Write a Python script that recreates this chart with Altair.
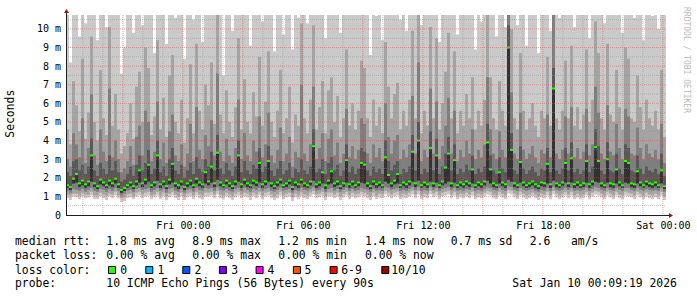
import altair as alt
import pandas as pd

MONO = "DejaVu Sans Mono"

# time: hours relative to Fri 00:00; 200 consolidated steps of 9 minutes
START_HOUR = -5.8447   # Thu 18:09:19
END_HOUR = 24.1553     # Sat 00:09:19
STEP_HOURS = 0.15

# sorted ping levels per step (ms), lowest to highest
ping_min = [
    0.9, 0.8, 1.0, 0.95, 0.85, 1.0, 0.9, 0.95, 1.05, 0.85,
    0.85, 1.0, 0.9, 0.8, 1.0, 0.9, 1.05, 0.9, 0.7, 0.75,
    0.9, 0.95, 0.85, 1.0, 1.05, 0.9, 1.0, 1.05, 0.85, 0.95,
    1.05, 0.85, 1.0, 0.8, 0.95, 1.05, 0.9, 0.8, 1.0, 0.8,
    0.95, 1.0, 0.85, 1.05, 0.9, 0.85, 1.0, 1.0, 1.05, 0.9,
    1.1, 0.9, 0.85, 1.0, 0.9, 0.8, 0.95, 1.05, 0.9, 1.0,
    0.95, 0.8, 1.0, 0.9, 1.05, 0.85, 1.0, 1.05, 0.9, 0.8,
    0.9, 1.05, 0.85, 0.95, 1.0, 0.75, 0.95, 0.85, 1.0, 0.9,
    0.85, 1.0, 1.1, 0.9, 0.95, 1.05, 0.8, 1.0, 1.0, 0.9,
    1.0, 0.8, 0.95, 1.05, 0.85, 1.0, 0.9, 0.95, 1.05, 1.0,
    0.9, 0.8, 1.0, 0.85, 0.95, 0.9, 1.1, 1.0, 0.9, 1.0,
    1.05, 0.85, 0.95, 0.9, 1.0, 1.1, 0.9, 1.1, 0.85, 0.95,
    0.9, 1.1, 0.95, 1.05, 0.85, 1.0, 1.05, 1.1, 0.9, 1.05,
    0.85, 0.95, 0.9, 1.0, 0.9, 1.05, 0.85, 0.95, 0.9, 1.0,
    1.1, 1.05, 0.9, 0.85, 1.05, 0.95, 0.85, 1.15, 1.1, 0.95,
    0.85, 1.05, 0.95, 0.85, 0.9, 1.0, 0.9, 0.8, 0.95, 0.9,
    1.05, 0.85, 1.1, 0.95, 0.85, 0.95, 1.05, 0.9, 1.05, 0.85,
    0.95, 0.85, 0.9, 1.05, 0.85, 1.0, 1.1, 1.05, 0.95, 0.85,
    1.05, 0.95, 0.85, 1.05, 0.9, 0.85, 1.05, 1.0, 0.95, 0.85,
    1.05, 0.95, 0.85, 1.0, 0.9, 0.85, 0.95, 0.85, 1.05, 0.8,
]
ping_low = [
    1.1, 1.05, 1.15, 1.15, 1.05, 1.2, 1.1, 1.1, 1.25, 1.05,
    1.05, 1.2, 1.1, 1.05, 1.15, 1.1, 1.25, 1.05, 0.9, 0.95,
    1.1, 1.15, 1.0, 1.2, 1.25, 1.1, 1.2, 1.25, 1.05, 1.1,
    1.25, 1.05, 1.2, 1.0, 1.15, 1.25, 1.1, 1.0, 1.2, 1.0,
    1.15, 1.2, 1.05, 1.25, 1.1, 1.05, 1.2, 1.2, 1.25, 1.1,
    1.3, 1.1, 1.05, 1.2, 1.1, 1.0, 1.15, 1.25, 1.1, 1.2,
    1.15, 1.05, 1.2, 1.1, 1.25, 1.05, 1.2, 1.25, 1.1, 1.0,
    1.1, 1.25, 1.05, 1.15, 1.2, 0.95, 1.15, 1.05, 1.2, 1.1,
    1.05, 1.2, 1.3, 1.1, 1.15, 1.25, 1.0, 1.2, 1.2, 1.1,
    1.2, 1.0, 1.15, 1.25, 1.05, 1.2, 1.1, 1.15, 1.25, 1.2,
    1.1, 1.0, 1.2, 1.05, 1.15, 1.1, 1.3, 1.2, 1.1, 1.2,
    1.25, 1.05, 1.15, 1.1, 1.2, 1.3, 1.1, 1.3, 1.05, 1.15,
    1.1, 1.3, 1.15, 1.25, 1.05, 1.2, 1.25, 1.3, 1.1, 1.25,
    1.05, 1.15, 1.1, 1.2, 1.1, 1.25, 1.05, 1.15, 1.1, 1.2,
    1.3, 1.25, 1.1, 1.05, 1.25, 1.15, 1.05, 1.35, 1.3, 1.15,
    1.05, 1.25, 1.15, 1.05, 1.1, 1.2, 1.1, 1.0, 1.15, 1.1,
    1.25, 1.05, 1.3, 1.15, 1.05, 1.15, 1.25, 1.1, 1.25, 1.05,
    1.15, 1.05, 1.1, 1.25, 1.05, 1.2, 1.3, 1.25, 1.15, 1.05,
    1.25, 1.15, 1.05, 1.25, 1.1, 1.05, 1.25, 1.2, 1.15, 1.05,
    1.25, 1.15, 1.05, 1.2, 1.1, 1.05, 1.15, 1.05, 1.25, 1.0,
]
ping_mid_low = [
    1.3, 1.2, 1.4, 1.35, 1.3, 1.4, 1.25, 1.35, 1.45, 1.3,
    1.25, 1.4, 1.35, 1.25, 1.4, 1.3, 1.45, 1.3, 1.05, 1.15,
    1.3, 1.35, 1.25, 1.4, 1.45, 1.35, 1.4, 1.45, 1.25, 1.35,
    1.45, 1.3, 1.4, 1.2, 1.4, 1.45, 1.3, 1.25, 1.4, 1.2,
    1.35, 1.4, 1.25, 1.45, 1.35, 1.3, 1.45, 1.4, 1.45, 1.3,
    1.5, 1.35, 1.3, 1.4, 1.3, 1.25, 1.4, 1.45, 1.3, 1.45,
    1.35, 1.25, 1.4, 1.35, 1.45, 1.3, 1.4, 1.45, 1.3, 1.25,
    1.35, 1.45, 1.3, 1.35, 1.4, 1.2, 1.35, 1.3, 1.45, 1.35,
    1.3, 1.4, 1.5, 1.3, 1.35, 1.45, 1.25, 1.4, 1.45, 1.3,
    1.4, 1.25, 1.35, 1.45, 1.3, 1.4, 1.3, 1.35, 1.45, 1.4,
    1.35, 1.25, 1.4, 1.3, 1.35, 1.3, 1.5, 1.45, 1.35, 1.4,
    1.45, 1.3, 1.35, 1.3, 1.4, 1.5, 1.35, 1.5, 1.3, 1.35,
    1.3, 1.5, 1.35, 1.45, 1.3, 1.4, 1.45, 1.5, 1.35, 1.45,
    1.3, 1.35, 1.3, 1.4, 1.35, 1.45, 1.3, 1.35, 1.3, 1.4,
    1.5, 1.45, 1.35, 1.3, 1.45, 1.35, 1.3, 1.55, 1.5, 1.35,
    1.3, 1.45, 1.35, 1.3, 1.35, 1.4, 1.3, 1.25, 1.35, 1.3,
    1.45, 1.3, 1.5, 1.35, 1.3, 1.35, 1.45, 1.35, 1.45, 1.3,
    1.35, 1.3, 1.35, 1.45, 1.3, 1.4, 1.5, 1.45, 1.35, 1.3,
    1.45, 1.35, 1.3, 1.45, 1.35, 1.3, 1.45, 1.45, 1.35, 1.3,
    1.45, 1.35, 1.3, 1.4, 1.35, 1.3, 1.35, 1.3, 1.45, 1.25,
]
ping_near = [
    1.45, 1.35, 1.7, 1.75, 1.5, 1.6, 1.45, 1.55, 1.8, 1.5,
    1.4, 1.65, 1.55, 1.45, 1.6, 1.5, 1.7, 1.45, 1.2, 1.3,
    1.45, 1.55, 1.4, 1.6, 1.75, 1.5, 1.65, 1.8, 1.45, 1.55,
    1.85, 1.45, 1.6, 1.4, 1.65, 1.75, 1.5, 1.4, 1.6, 1.35,
    1.5, 1.6, 1.45, 1.7, 1.55, 1.45, 1.7, 1.6, 1.75, 1.5,
    1.9, 1.55, 1.45, 1.65, 1.5, 1.4, 1.6, 1.8, 1.45, 1.65,
    1.5, 1.45, 1.65, 1.55, 1.75, 1.45, 1.6, 1.8, 1.5, 1.4,
    1.55, 1.7, 1.45, 1.5, 1.65, 1.35, 1.55, 1.45, 1.7, 1.5,
    1.45, 1.6, 1.85, 1.45, 1.55, 1.7, 1.4, 1.65, 1.7, 1.5,
    1.6, 1.4, 1.5, 1.75, 1.45, 1.6, 1.45, 1.55, 1.75, 1.7,
    1.5, 1.4, 1.6, 1.45, 1.55, 1.45, 1.8, 1.7, 1.5, 1.65,
    1.7, 1.45, 1.55, 1.45, 1.6, 1.8, 1.5, 1.85, 1.45, 1.55,
    1.45, 1.8, 1.5, 1.75, 1.45, 1.6, 1.7, 1.8, 1.5, 1.75,
    1.45, 1.55, 1.45, 1.6, 1.5, 1.7, 1.45, 1.55, 1.45, 1.6,
    1.85, 1.7, 1.5, 1.45, 1.7, 1.55, 1.45, 1.9, 1.8, 1.5,
    1.45, 1.75, 1.55, 1.45, 1.5, 1.6, 1.45, 1.4, 1.55, 1.5,
    1.7, 1.45, 1.85, 1.5, 1.45, 1.55, 1.75, 1.5, 1.75, 1.45,
    1.55, 1.45, 1.5, 1.75, 1.45, 1.6, 1.8, 1.75, 1.5, 1.45,
    1.75, 1.5, 1.45, 1.7, 1.55, 1.45, 1.75, 1.7, 1.5, 1.45,
    1.7, 1.55, 1.45, 1.6, 1.5, 1.45, 1.55, 1.45, 1.7, 1.4,
]
median_rtt = [
    1.6, 1.5, 1.95, 2.2, 1.7, 1.85, 1.65, 1.8, 3.2, 1.7,
    1.55, 1.9, 1.75, 1.6, 1.85, 1.7, 1.95, 1.65, 1.35, 1.45,
    1.6, 1.75, 1.55, 1.8, 2.4, 1.7, 1.9, 2.7, 1.6, 1.75,
    3.2, 1.65, 1.8, 1.55, 1.9, 2.75, 1.7, 1.6, 1.8, 1.5,
    1.7, 1.85, 1.6, 1.95, 1.75, 1.65, 2.3, 1.8, 2.6, 1.7,
    3.35, 1.75, 1.6, 1.85, 1.7, 1.55, 1.8, 3.2, 1.65, 1.9,
    1.7, 1.6, 1.85, 1.75, 2.8, 1.65, 1.8, 2.9, 1.7, 1.55,
    1.75, 1.9, 1.6, 1.7, 1.85, 1.5, 1.75, 1.65, 1.9, 1.7,
    1.6, 1.8, 3.7, 1.65, 1.75, 2.3, 1.6, 1.85, 2.35, 1.7,
    1.8, 1.55, 1.7, 2.95, 1.65, 1.8, 1.6, 1.75, 2.8, 2.7,
    1.7, 1.55, 1.8, 1.65, 1.75, 1.6, 3.1, 2.15, 1.7, 1.85,
    2.2, 1.6, 1.75, 1.65, 1.8, 3.4, 1.7, 4.0, 1.6, 1.75,
    1.65, 3.6, 1.7, 3.2, 1.6, 1.8, 2.55, 3.3, 1.7, 2.95,
    1.6, 1.75, 1.65, 1.8, 1.7, 2.45, 1.6, 1.75, 1.65, 1.8,
    3.9, 2.45, 1.7, 1.6, 2.3, 1.75, 1.65, 9.0, 3.5, 1.7,
    1.6, 2.85, 1.75, 1.6, 1.7, 1.8, 1.65, 1.55, 1.75, 1.7,
    2.75, 1.65, 6.8, 1.7, 1.6, 1.75, 2.8, 1.7, 3.05, 1.65,
    1.75, 1.6, 1.7, 2.9, 1.65, 1.8, 3.65, 2.9, 1.7, 1.6,
    3.0, 1.7, 1.65, 2.45, 1.75, 1.6, 2.9, 2.8, 1.7, 1.65,
    2.35, 1.75, 1.6, 1.8, 1.7, 1.65, 1.75, 1.6, 2.4, 1.55,
]
ping_up1 = [
    2.3, 2.1, 2.9, 3.0, 2.4, 2.7, 2.2, 2.6, 4.1, 2.4,
    2.1, 2.8, 2.5, 2.2, 3.2, 2.4, 2.9, 2.3, 1.8, 1.9,
    2.2, 2.6, 2.1, 2.7, 3.2, 2.4, 2.8, 3.5, 2.2, 2.5,
    4.0, 2.3, 2.6, 2.1, 3.0, 3.6, 2.4, 2.2, 2.7, 2.0,
    2.4, 2.8, 2.2, 3.1, 2.5, 2.3, 3.0, 2.6, 3.4, 2.4,
    4.3, 2.5, 2.2, 2.8, 2.4, 2.1, 2.6, 4.0, 2.3, 2.9,
    2.4, 2.2, 2.7, 2.5, 3.6, 2.3, 2.6, 3.7, 2.4, 2.1,
    2.5, 2.9, 2.2, 2.4, 2.8, 2.0, 2.5, 2.3, 3.0, 2.4,
    2.2, 2.6, 4.6, 2.3, 2.5, 3.0, 2.2, 2.8, 3.1, 2.4,
    2.7, 2.1, 2.4, 3.8, 2.3, 2.6, 2.2, 2.5, 3.6, 3.4,
    2.4, 2.1, 2.6, 2.3, 2.5, 2.2, 4.0, 2.9, 2.4, 2.7,
    2.9, 2.2, 2.5, 2.3, 2.6, 4.3, 2.4, 5.0, 2.2, 2.5,
    2.3, 4.5, 2.4, 4.1, 2.2, 2.6, 3.3, 4.2, 2.4, 3.8,
    2.2, 2.5, 2.3, 2.7, 2.4, 3.2, 2.2, 2.5, 2.3, 2.6,
    4.9, 3.2, 2.4, 2.2, 3.1, 2.5, 2.3, 10.2, 4.4, 2.4,
    2.2, 3.7, 2.5, 2.2, 2.4, 2.6, 2.3, 2.1, 2.5, 2.4,
    3.6, 2.3, 7.9, 2.4, 2.2, 2.5, 3.6, 2.4, 3.9, 2.3,
    2.5, 2.2, 2.4, 3.8, 2.3, 2.6, 4.6, 3.7, 2.4, 2.2,
    3.9, 2.4, 2.3, 3.3, 2.5, 2.2, 3.8, 3.6, 2.4, 2.3,
    3.2, 2.5, 2.2, 2.6, 2.4, 2.3, 2.5, 2.2, 3.3, 2.1,
]
ping_up2 = [
    3.0, 2.6, 4.4, 3.8, 3.1, 5.2, 2.8, 3.6, 6.5, 3.2,
    2.7, 4.6, 3.4, 2.9, 6.8, 3.1, 4.0, 3.0, 2.3, 2.5,
    2.9, 3.7, 2.7, 4.2, 4.8, 3.2, 5.6, 5.0, 2.9, 3.4,
    6.1, 3.0, 3.9, 2.8, 4.5, 5.4, 3.2, 2.9, 3.8, 2.6,
    3.3, 4.9, 2.9, 5.8, 3.5, 3.0, 4.3, 3.7, 5.1, 3.2,
    7.6, 3.4, 2.9, 4.1, 3.2, 2.8, 3.6, 6.2, 3.0, 4.4,
    3.2, 2.9, 4.0, 3.4, 5.3, 3.1, 3.8, 5.5, 3.2, 2.8,
    3.5, 4.7, 2.9, 3.3, 4.2, 2.6, 3.4, 3.1, 7.0, 3.3,
    2.9, 3.8, 6.9, 3.0, 3.6, 4.4, 2.9, 4.1, 4.6, 3.2,
    3.9, 2.8, 3.3, 5.7, 3.1, 3.7, 3.0, 3.5, 5.2, 4.9,
    3.3, 2.8, 3.8, 3.1, 3.6, 2.9, 6.0, 4.2, 3.3, 4.0,
    4.3, 3.0, 3.5, 3.1, 3.8, 6.4, 3.3, 8.2, 2.9, 3.5,
    3.1, 6.8, 3.3, 6.1, 3.0, 3.7, 4.8, 6.3, 3.3, 5.6,
    2.9, 3.5, 3.1, 4.0, 3.3, 4.6, 3.0, 3.5, 3.1, 3.8,
    7.4, 4.6, 3.3, 3.0, 4.5, 3.5, 3.1, 12.0, 6.6, 3.3,
    3.0, 5.5, 3.5, 3.0, 3.3, 3.7, 3.1, 2.8, 3.5, 3.3,
    5.4, 3.1, 11.0, 3.3, 3.0, 3.5, 5.3, 3.3, 5.8, 3.1,
    3.6, 3.0, 3.4, 5.7, 3.2, 3.8, 6.9, 5.5, 3.3, 3.0,
    5.9, 3.4, 3.2, 4.9, 3.6, 3.0, 5.7, 5.3, 3.3, 3.2,
    4.7, 3.6, 3.0, 3.8, 3.3, 3.1, 3.5, 3.0, 4.9, 2.8,
]
ping_up3 = [
    4.6, 3.8, 7.2, 5.9, 4.5, 8.4, 4.1, 5.5, 9.6, 5.0,
    4.0, 7.8, 5.2, 4.3, 10.1, 4.8, 6.5, 4.6, 3.3, 3.7,
    4.4, 6.0, 4.1, 6.9, 7.7, 5.0, 9.0, 7.9, 4.3, 5.3,
    9.4, 4.6, 6.3, 4.2, 7.5, 8.6, 5.0, 4.4, 6.2, 3.9,
    5.2, 8.1, 4.4, 9.2, 5.6, 4.6, 7.0, 5.9, 8.2, 4.9,
    10.8, 5.4, 4.4, 6.7, 5.0, 4.2, 5.8, 9.5, 4.6, 7.3,
    5.0, 4.4, 6.6, 5.3, 8.5, 4.8, 6.1, 8.8, 5.0, 4.2,
    5.6, 7.8, 4.4, 5.2, 6.9, 3.9, 5.4, 4.8, 10.3, 5.2,
    4.4, 6.2, 10.2, 4.6, 5.8, 7.2, 4.4, 6.7, 7.4, 5.0,
    6.4, 4.2, 5.2, 8.9, 4.8, 6.0, 4.6, 5.6, 8.3, 7.9,
    5.2, 4.2, 6.2, 4.8, 5.8, 4.4, 9.3, 6.9, 5.2, 6.5,
    7.1, 4.6, 5.6, 4.8, 6.2, 9.9, 5.2, 11.4, 4.4, 5.6,
    4.8, 10.1, 5.2, 9.5, 4.6, 6.0, 7.7, 9.8, 5.2, 8.8,
    4.4, 5.6, 4.8, 6.5, 5.2, 7.4, 4.6, 5.6, 4.8, 6.2,
    10.9, 7.4, 5.2, 4.6, 7.2, 5.6, 4.8, 13.0, 10.0, 5.2,
    4.6, 8.7, 5.6, 4.6, 5.2, 6.0, 4.8, 4.2, 5.6, 5.2,
    8.5, 4.8, 12.4, 5.2, 4.6, 5.6, 8.3, 5.2, 9.1, 4.8,
    5.8, 4.6, 5.4, 8.9, 5.0, 6.2, 10.4, 8.7, 5.2, 4.6,
    9.2, 5.4, 5.0, 7.8, 5.8, 4.6, 9.0, 8.4, 5.2, 5.0,
    7.5, 5.8, 4.6, 6.2, 5.2, 4.8, 5.6, 4.6, 7.8, 4.2,
]
ping_max = [
    12.5, 8.2, 13.0, 11.8, 9.6, 12.9, 10.3, 12.2, 14.0, 11.4,
    9.4, 13.2, 11.9, 10.1, 13.8, 12.0, 12.6, 11.2, 7.6, 9.0,
    11.6, 12.8, 9.8, 13.3, 12.4, 10.2, 13.9, 12.7, 11.0, 8.7,
    14.2, 11.3, 12.6, 9.2, 13.1, 13.5, 10.6, 11.8, 12.9, 8.4,
    12.0, 13.4, 10.5, 13.9, 11.6, 9.3, 12.8, 11.9, 13.6, 10.9,
    15.0, 12.2, 7.5, 12.9, 11.4, 9.9, 12.3, 14.1, 10.8, 12.6,
    11.8, 9.1, 12.7, 11.0, 13.5, 10.4, 12.4, 13.8, 11.7, 8.8,
    12.1, 13.3, 9.7, 11.9, 12.8, 8.9, 11.5, 10.6, 14.3, 12.0,
    10.3, 12.6, 14.6, 11.2, 12.3, 13.0, 9.5, 12.7, 13.2, 11.4,
    12.9, 9.8, 11.6, 13.7, 10.9, 12.5, 11.1, 12.2, 13.4, 13.0,
    11.7, 8.6, 12.8, 10.7, 12.4, 9.4, 13.9, 12.6, 11.3, 12.9,
    13.1, 10.5, 12.2, 9.9, 12.7, 14.0, 11.6, 14.9, 10.2, 12.3,
    11.0, 14.2, 11.8, 13.7, 9.3, 12.5, 13.1, 13.9, 11.4, 13.3,
    9.7, 12.4, 10.8, 12.9, 11.5, 13.2, 8.9, 12.1, 10.4, 12.6,
    14.5, 13.0, 11.7, 9.6, 13.2, 12.0, 10.1, 16.0, 13.8, 11.5,
    10.2, 13.4, 12.1, 9.1, 11.8, 12.6, 10.9, 8.7, 12.3, 11.6,
    13.0, 9.9, 15.5, 12.2, 10.6, 12.4, 13.3, 11.2, 13.6, 10.1,
    12.5, 10.8, 11.9, 13.5, 9.5, 12.8, 14.2, 13.0, 11.7, 10.3,
    13.6, 12.0, 11.4, 13.2, 12.7, 9.8, 13.5, 13.1, 11.8, 10.6,
    13.0, 12.4, 9.4, 12.6, 11.9, 10.7, 12.2, 10.0, 13.1, 11.0,
]

# axis / grid values
x_label_hours = [0, 6, 12, 18, 24]
x_minor_hours = [-5, -4, -2, -1, 1, 2, 4, 5, 7, 8, 10, 11, 13, 14, 16, 17, 19, 20, 22, 23]
x_major_hours = [-3, 0, 3, 6, 9, 12, 15, 18, 21, 24]
y_label_ms = [0, 1, 2, 3, 4, 5, 6, 7, 8, 9, 10]
y_minor_ms = [0.5, 1.5, 2.5, 3.5, 4.5, 5.5, 6.5, 7.5, 8.5, 9.5, 10.5]
y_major_ms = [1, 2, 3, 4, 5, 6, 7, 8, 9, 10]
Y_MAX = 10.75

loss_labels = ["0", "1", "2", "3", "4", "5", "6-9", "10/10"]
loss_colors = ["#26ff00", "#00b8ff", "#0059ff", "#7e00ff", "#ff00ff", "#ff5500", "#ff0000", "#a10000"]

n = len(median_rtt)
df = pd.DataFrame({
    "t0": [START_HOUR + STEP_HOURS * i for i in range(n)],
    "p_min": ping_min, "p_low": ping_low, "p_mid_low": ping_mid_low,
    "p_near": ping_near, "median": median_rtt, "p_up1": ping_up1,
    "p_up2": ping_up2, "p_up3": ping_up3, "p_max": ping_max,
})
df["t1"] = df["t0"] + STEP_HOURS

xs = alt.Scale(domain=[START_HOUR, END_HOUR], nice=False, zero=False)
ys = alt.Scale(domain=[0, Y_MAX], nice=False, zero=False)
x_axis = alt.Axis(
    values=x_label_hours,
    labelExpr="datum.value == 24 ? 'Sat 00:00' : 'Fri ' + (datum.value < 10 ? '0' : '') + datum.value + ':00'",
    grid=False, domain=False, ticks=False, tickSize=0, labelPadding=5,
    labelFont=MONO, labelFontSize=10, labelColor="#000000", title=None,
    labelFlush=False, labelOverlap=False, zindex=1,
)
y_axis = alt.Axis(
    values=y_label_ms,
    labelExpr="datum.value == 0 ? '0\u00a0\u00a0' : datum.value + ' m'",
    grid=False, domain=False, ticks=False, tickSize=0, labelPadding=5.5,
    labelFont=MONO, labelFontSize=10, labelColor="#000000", title=None,
    labelAlign="right", labelBaseline="middle", labelFlush=False,
    labelOverlap=False, zindex=1,
)


def X(f):
    return alt.X(f"{f}:Q", scale=xs, axis=x_axis)


def Y(f):
    return alt.Y(f"{f}:Q", scale=ys, axis=y_axis)


base = alt.Chart(df)
layers = []
bands = [
    ("p_min", "p_max", "#cacaca"),
    ("p_low", "p_up3", "#a4a4a4"),
    ("p_mid_low", "p_up2", "#7e7e7e"),
    ("p_near", "p_up1", "#585858"),
    ("p_near", "median", "#323232"),
]
for lo, hi, col in bands:
    layers.append(
        base.mark_rect(color=col, clip=True, strokeWidth=0).encode(
            x=X("t0"), x2=alt.X2("t1"), y=Y(lo), y2=alt.Y2(hi)
        )
    )
layers.append(
    base.mark_rule(color="#26ff00", strokeWidth=2, clip=True).encode(
        x=X("t0"), x2=alt.X2("t1"), y=Y("median")
    )
)

# grid lines (drawn over the smoke, as rrdtool does)
layers.append(alt.Chart(pd.DataFrame({"h": x_minor_hours})).mark_rule(
    color="#8f8f8f", opacity=0.5, strokeDash=[1, 1], strokeWidth=1).encode(
    x=X("h"), y=alt.value(0), y2=alt.value(200)))
layers.append(alt.Chart(pd.DataFrame({"v": y_minor_ms})).mark_rule(
    color="#8f8f8f", opacity=0.5, strokeDash=[1, 1], strokeWidth=1).encode(
    y=Y("v"), x=alt.value(0), x2=alt.value(600)))
layers.append(alt.Chart(pd.DataFrame({"h": x_major_hours})).mark_rule(
    color="#de4f4f", opacity=0.5, strokeDash=[1, 1], strokeWidth=1).encode(
    x=X("h"), y=alt.value(0), y2=alt.value(200)))
layers.append(alt.Chart(pd.DataFrame({"v": y_major_ms})).mark_rule(
    color="#de4f4f", opacity=0.5, strokeDash=[1, 1], strokeWidth=1).encode(
    y=Y("v"), x=alt.value(0), x2=alt.value(600)))

one = pd.DataFrame({"a": [0]})
# axis lines and arrows
layers.append(alt.Chart(one).mark_rule(color="#1f1f1f", strokeWidth=1).encode(
    x=alt.value(0), x2=alt.value(603), y=alt.value(200.5)))
layers.append(alt.Chart(one).mark_rule(color="#1f1f1f", strokeWidth=1).encode(
    x=alt.value(0.5), y=alt.value(-2), y2=alt.value(201)))
layers.append(alt.Chart(one).mark_point(
    shape="M-1,0.8L0,-0.8L1,0.8Z", filled=True, size=25, color="#801f1f", opacity=1).encode(
    x=alt.value(0.5), y=alt.value(-4)))
layers.append(alt.Chart(one).mark_point(
    shape="M-0.8,-1L0.8,0L-0.8,1Z", filled=True, size=25, color="#801f1f", opacity=1).encode(
    x=alt.value(605), y=alt.value(200.5)))


def txt(s, x, y, size=11.4, align="left", baseline="alphabetic", angle=0, color="#000000"):
    kw = dict(text=s, font=MONO, fontSize=size, align=align, baseline=baseline, color=color)
    if angle:
        kw["angle"] = angle
    return alt.Chart(one).mark_text(**kw).encode(x=alt.value(x), y=alt.value(y))


layers.append(txt("Seconds", -55.5, 98.7, angle=270, align="center", baseline="middle"))
layers.append(txt("RRDTOOL / TOBI OETIKER", 620, 45, size=8, angle=90, align="center",
                  baseline="middle", color="#bbbbbb"))

cols = [40.3, 126.3, 212.3, 299, 384.7]
row1 = ["1.8 ms avg", "8.9 ms max", "1.2 ms min", "1.4 ms now", "0.7 ms sd"]
row2 = ["0.00 % avg", "0.00 % max", "0.00 % min", "0.00 % now"]
layers.append(txt("median rtt:", -51, 230))
for s, x in zip(row1, cols):
    layers.append(txt(s, x, 230))
layers.append(txt("2.6", 463.7, 230))
layers.append(txt("am/s", 505, 230))
layers.append(txt("packet loss:", -51, 244))
for s, x in zip(row2, cols):
    layers.append(txt(s, x, 244))
layers.append(txt("loss color:", -51, 258.5))
box_x = [42.5, 79.8, 116.8, 153.4, 190.1, 227.4, 264.1, 315.8]
lab_x = [54.2, 91.5, 128.5, 165.2, 201.5, 238.5, 275.2, 325.2]
for lab, col, bx, lx in zip(loss_labels, loss_colors, box_x, lab_x):
    layers.append(alt.Chart(one).mark_rect(fill=col, stroke="#000000", strokeWidth=1).encode(
        x=alt.value(bx), x2=alt.value(bx + 7), y=alt.value(251.5), y2=alt.value(258.5)))
    layers.append(txt(lab, lx, 258.5))
layers.append(txt("probe:", -51, 272.3))
layers.append(txt("10 ICMP Echo Pings (56 Bytes) every 90s", 40.3, 272.3))
layers.append(txt("Sat Jan 10 00:09:19 2026", 446.3, 272.3))

chart = alt.layer(*layers).properties(
    width=600, height=200,
    autosize=alt.AutoSizeParams(type="none"),
    padding={"left": 66, "top": 15, "right": 31, "bottom": 82},
    background="#ffffff",
).configure_view(strokeWidth=0)

chart.save("out.html", embed_options={"renderer": "svg", "actions": False})
